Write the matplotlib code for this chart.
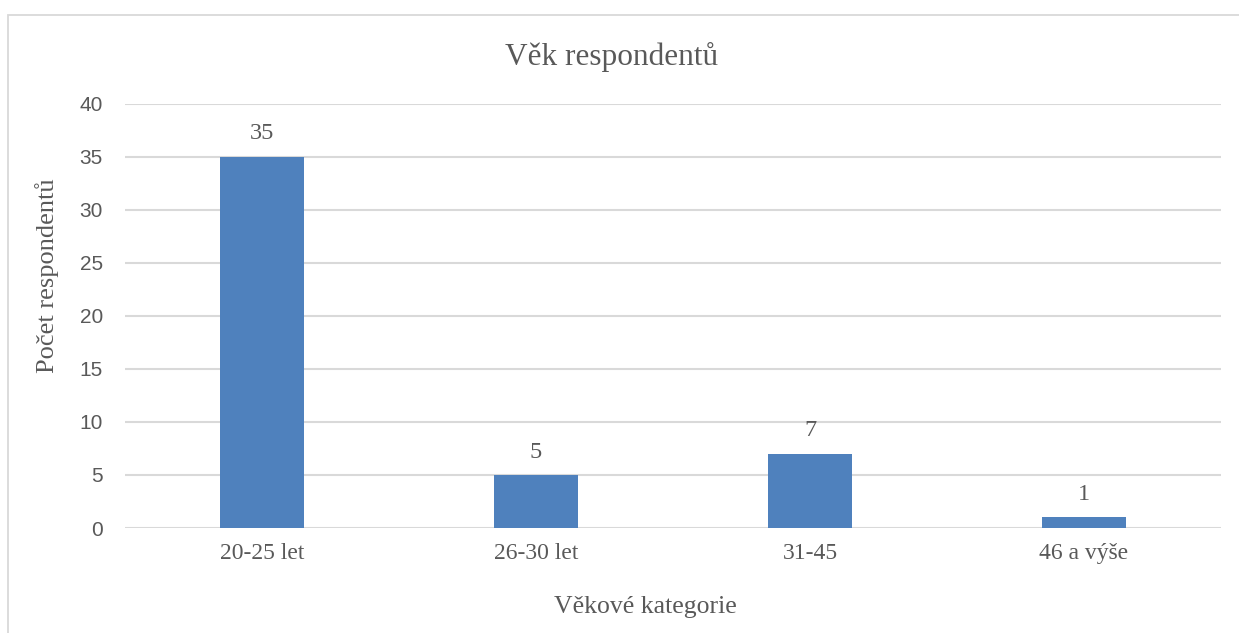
import numpy as np
import matplotlib
matplotlib.use("Agg")
import matplotlib.pyplot as plt
import matplotlib.patches as patches

# data
categories = ["20-25 let", "26-30 let", "31-45", "46 a výše"]
counts = [35, 5, 7, 1]
y_ticks = [0, 5, 10, 15, 20, 25, 30, 35, 40]

title = "Věk respondentů"
x_label = "Věkové kategorie"
y_label = "Počet respondentů"

TXT = "#595959"
GRID = "#d9d9d9"
BAR = "#4f81bd"
SERIF = ["Liberation Serif", "DejaVu Serif"]
SANS = ["Liberation Sans", "DejaVu Sans"]

W, H = 1239, 633
fig = plt.figure(figsize=(W / 100, H / 100), dpi=100)
ax = fig.add_axes([125 / W, 1 - 528 / H, (1221 - 125) / W, (528 - 104) / H])

# outer chart frame (top and left edges visible in the crop)
fig.add_artist(patches.Rectangle((8 / W, -0.01), 1.2, 1 - 15 / H + 0.01,
                                 transform=fig.transFigure, fill=False,
                                 edgecolor=GRID, linewidth=1.3))

x = np.arange(len(categories))
bars = ax.bar(x, counts, width=0.31, color=BAR, zorder=3)

ax.set_xlim(-0.5, len(categories) - 0.5)
ax.set_ylim(0, 40)
ax.set_yticks(y_ticks)
ax.set_yticklabels([str(t) for t in y_ticks], family=SANS, fontsize=15, color=TXT)
ax.set_xticks(x)
ax.set_xticklabels(categories, family=SERIF, fontsize=17, color=TXT)
ax.tick_params(axis="both", length=0)
ax.tick_params(axis="y", pad=16)
ax.tick_params(axis="x", pad=11)

ax.grid(axis="y", color=GRID, linewidth=1.5, zorder=0)
for s in ax.spines.values():
    s.set_visible(False)

for b, v in zip(bars, counts):
    ax.annotate(str(v), (b.get_x() + b.get_width() / 2, v), xytext=(0, 9),
                textcoords="offset points", ha="center", va="bottom",
                family=SERIF, fontsize=17.5, color=TXT)

fig.text(612 / W, 1 - 57 / H, title, ha="center", va="center",
         family=SERIF, fontsize=22.5, color=TXT)
fig.text(645 / W, 1 - 607 / H, x_label, ha="center", va="center",
         family=SERIF, fontsize=18.5, color=TXT)
fig.text(47 / W, 1 - 276 / H, y_label, ha="center", va="center", rotation=90,
         family=SERIF, fontsize=19, color=TXT)

fig.savefig("out.png", dpi=100, facecolor="white")
